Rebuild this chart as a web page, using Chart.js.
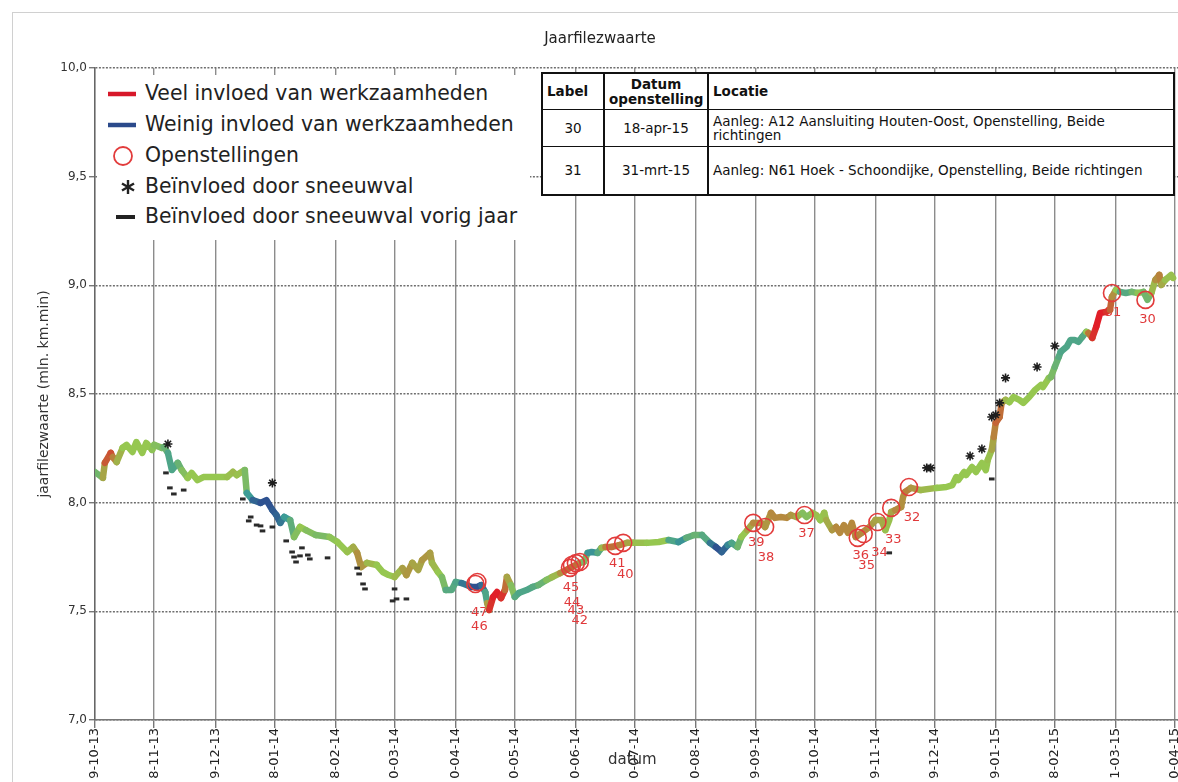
<!DOCTYPE html>
<html>
<head>
<meta charset="utf-8">
<title>Jaarfilezwaarte</title>
<script src="https://cdn.jsdelivr.net/npm/chart.js@4.4.1/dist/chart.umd.min.js"></script>
<style>
    body { margin: 0; background: #fff; overflow: hidden; font-family: "DejaVu Sans", Verdana, sans-serif; }
    #wrap { position: relative; width: 1178px; height: 782px; overflow: hidden; }
    #frame { position: absolute; left: 12px; top: 12px; right: -2px; bottom: -2px; border-left: 1px solid #d0d0d0; border-top: 1px solid #d0d0d0; }
    canvas { position: absolute; left: 0; top: 0; }
    #titel { position: absolute; top: 29px; left: 0; width: 1200px; text-align: center; font-size: 15px; color: #222; }
    #datum { position: absolute; left: 608px; top: 750px; font-size: 15px; color: #333; }
    #legenda { position: absolute; left: 97px; top: 75px; width: 433px; height: 165px; background: #fff; color: #222; font-size: 20.4px; }
    #legenda .rij { position: absolute; left: 0; height: 31px; line-height: 31px; white-space: nowrap; }
    #legenda .rij span { position: absolute; left: 48px; top: 0; }
    #legenda svg { position: absolute; left: 0; top: 0; }
    #tabel { position: absolute; left: 541px; top: 72px; width: 634px; border-collapse: collapse; table-layout: fixed;
             border: 2px solid #111; background: #fff; font-size: 13.5px; color: #111; }
    #tabel th, #tabel td { border-top: 1px solid #111; border-bottom: 1px solid #111; border-left: 2px solid #111; border-right: 2px solid #111; padding: 0 4px; vertical-align: middle; }
    #tabel th { font-size: 13.5px; font-weight: bold; line-height: 15px; height: 35px; text-align: left; }
    #tabel .c { text-align: center; }
    #tabel td { line-height: 14px; }
</style>
</head>
<body>
<div id="wrap">
    <div id="frame"></div>
    <canvas id="grafiek" width="1178" height="782"></canvas>
    <div id="titel">Jaarfilezwaarte</div>
    <div id="legenda">
        <div class="rij" style="top:3px"><svg width="48" height="31"><line x1="11" y1="16" x2="39" y2="16" stroke="#d7182a" stroke-width="4.5"/></svg><span>Veel invloed van werkzaamheden</span></div>
        <div class="rij" style="top:34px"><svg width="48" height="31"><line x1="11" y1="16" x2="39" y2="16" stroke="#2b4a8b" stroke-width="4.5"/></svg><span>Weinig invloed van werkzaamheden</span></div>
        <div class="rij" style="top:65px"><svg width="48" height="31"><circle cx="26" cy="16" r="9" fill="none" stroke="#e23b3b" stroke-width="1.8"/></svg><span>Openstellingen</span></div>
        <div class="rij" style="top:96px"><svg width="48" height="31"><g stroke="#222" stroke-width="2.4"><line x1="31" y1="9" x2="31" y2="23"/><line x1="25" y1="12.5" x2="37" y2="19.5"/><line x1="25" y1="19.5" x2="37" y2="12.5"/></g></svg><span>Beïnvloed door sneeuwval</span></div>
        <div class="rij" style="top:126px"><svg width="48" height="31"><line x1="19" y1="16" x2="38" y2="16" stroke="#222" stroke-width="4"/></svg><span>Beïnvloed door sneeuwval vorig jaar</span></div>
    </div>
    <table id="tabel">
        <colgroup><col style="width:62px"><col style="width:104px"><col></colgroup>
        <tr><th>Label</th><th class="c">Datum<br>openstelling</th><th>Locatie</th></tr>
        <tr style="height:37px"><td class="c">30</td><td class="c">18-apr-15</td><td>Aanleg: A12 Aansluiting Houten-Oost, Openstelling, Beide richtingen</td></tr>
        <tr style="height:48px"><td class="c">31</td><td class="c">31-mrt-15</td><td>Aanleg: N61 Hoek - Schoondijke, Openstelling, Beide richtingen</td></tr>
    </table>
    <div id="datum">datum</div>
</div>
<script>
// x-as: dagen sinds 29-10-2013
const tickDagen = [0, 30, 61, 91, 122, 152, 183, 213, 244, 274, 305, 335, 365, 396, 426, 457, 487, 518, 548];
const tickLabels = ['9-10-13', '8-11-13', '9-12-13', '8-01-14', '8-02-14', '0-03-14', '0-04-14', '0-05-14', '0-06-14', '0-07-14',
    '0-08-14', '9-09-14', '9-10-14', '9-11-14', '9-12-14', '9-01-15', '8-02-15', '1-03-15', '0-04-15'];

// jaarfilezwaarte (mln. km.min)
const dagen = [
    0, 4, 5, 8, 9, 11, 14, 16, 19, 21,
    24, 26, 29, 30, 34, 35, 37, 39, 42, 44,
    47, 49, 52, 55, 62, 67, 70, 72, 76, 77,
    80, 84, 87, 90, 92, 94, 96, 99, 101, 104,
    107, 112, 119, 123, 128, 131, 133, 135, 138, 143,
    146, 149, 152, 156, 158, 161, 164, 166, 170, 171,
    174, 176, 178, 181, 183, 186, 191, 194, 196, 198,
    199, 200, 202, 204, 206, 208, 209, 211, 213, 215,
    219, 222, 225, 229, 232, 236, 239, 242, 246, 248,
    250, 252, 255, 257, 259, 262, 266, 270, 273, 280,
    286, 291, 296, 300, 304, 308, 312, 315, 318, 321,
    323, 326, 328, 331, 334, 338, 340, 343, 345, 348,
    351, 353, 356, 359, 361, 364, 366, 368, 370, 371,
    374, 376, 378, 380, 382, 384, 386, 389, 393, 396,
    399, 401, 403, 404, 406, 409, 410, 411, 414, 419,
    427, 432, 435, 437, 438, 441, 442, 445, 447, 450,
    452, 453, 455, 456, 457, 459, 460, 462, 464, 466,
    469, 471, 474, 477, 480, 481, 484, 485, 487, 489,
    490, 493, 495, 497, 499, 501, 503, 504, 506, 508,
    510, 513, 515, 516, 518, 520, 523, 526, 529, 532,
    534, 536, 538, 540, 541, 543, 546, 547
];
const waarden = [
    8.141, 8.114, 8.183, 8.229, 8.210, 8.187, 8.252, 8.266, 8.233, 8.279,
    8.229, 8.275, 8.243, 8.266, 8.252, 8.256, 8.229, 8.150, 8.183, 8.150,
    8.114, 8.137, 8.104, 8.118, 8.118, 8.118, 8.141, 8.127, 8.150, 8.045,
    8.012, 7.999, 8.012, 7.966, 7.943, 7.907, 7.934, 7.920, 7.842, 7.888,
    7.874, 7.851, 7.842, 7.819, 7.773, 7.796, 7.769, 7.704, 7.723, 7.713,
    7.681, 7.667, 7.658, 7.699, 7.667, 7.723, 7.690, 7.736, 7.769, 7.723,
    7.681, 7.658, 7.598, 7.598, 7.635, 7.630, 7.612, 7.612, 7.621, 7.589,
    7.538, 7.506, 7.566, 7.589, 7.561, 7.598, 7.658, 7.621, 7.566, 7.584,
    7.598, 7.612, 7.621, 7.644, 7.658, 7.676, 7.690, 7.704, 7.723, 7.727,
    7.769, 7.773, 7.769, 7.792, 7.796, 7.796, 7.805, 7.815, 7.815, 7.815,
    7.819, 7.828, 7.819, 7.838, 7.851, 7.851, 7.815, 7.796, 7.773, 7.805,
    7.815, 7.796, 7.842, 7.874, 7.907, 7.907, 7.888, 7.953, 7.930, 7.934,
    7.930, 7.943, 7.934, 7.953, 7.934, 7.953, 7.943, 7.920, 7.953, 7.920,
    7.874, 7.888, 7.861, 7.897, 7.861, 7.907, 7.842, 7.861, 7.888, 7.920,
    7.920, 7.874, 7.920, 7.957, 7.966, 7.980, 8.026, 8.049, 8.068, 8.058,
    8.068, 8.072, 8.081, 8.118, 8.104, 8.141, 8.127, 8.164, 8.141, 8.183,
    8.150, 8.197, 8.243, 8.302, 8.367, 8.394, 8.459, 8.473, 8.463, 8.486,
    8.473, 8.459, 8.486, 8.519, 8.542, 8.532, 8.574, 8.578, 8.625, 8.671,
    8.694, 8.717, 8.749, 8.749, 8.740, 8.763, 8.786, 8.781, 8.758, 8.809,
    8.873, 8.878, 8.887, 8.947, 8.979, 8.970, 8.965, 8.970, 8.965, 8.970,
    8.933, 8.965, 9.025, 9.048, 9.002, 9.025, 9.048, 9.034
];
// invloed van werkzaamheden: -1 = weinig, 0 = neutraal, 1 = veel
const invloed = [
    -0.3, -0.1, 0.6, 0.8, 0.7, 0.3, 0, 0, 0, 0,
    0, 0, 0, -0.1, -0.1, -0.2, -0.3, -0.5, -0.3, -0.2,
    0, 0, 0, 0, 0, 0, 0.1, 0.1, 0, -0.3,
    -0.7, -0.9, -0.9, -0.9, -0.8, -0.8, -0.6, -0.4, -0.2, 0,
    0, -0.2, -0.1, 0, 0, 0.1, 0.3, 0.5, 0.2, 0,
    0, 0, 0, 0.2, 0.4, 0.3, 0.2, 0.3, 0.4, 0.2,
    0, 0, -0.3, -0.4, -0.3, -0.5, -0.9, -0.9, -0.9, -0.6,
    -0.2, 0.8, 1, 1, 1, 0.8, 0.4, 0.1, -0.3, -0.4,
    -0.4, -0.4, -0.3, -0.2, 0, 0.2, 0.6, 0.7, 0.5, 0.2,
    -0.5, -0.6, -0.5, -0.2, 0.4, 0.6, 0.6, 0.4, 0.1, 0,
    0, 0, -0.8, -0.3, -0.3, -0.2, -0.5, -0.9, -0.9, -0.7,
    -0.5, -0.3, -0.1, 0.1, 0.4, 0.5, 0.3, 0.4, 0.5, 0.4,
    0.5, 0.4, 0.3, 0, -0.2, 0, 0.1, 0, 0, 0.1,
    0.3, 0.4, 0.5, 0.4, 0.5, 0.4, 0.5, 0.5, 0.4, 0.2,
    0.3, 0.1, 0, 0.1, 0.4, 0.5, 0.3, 0.5, 0.5, 0.2,
    0, 0, 0, 0, 0, 0, 0, 0, 0, 0,
    0, 0, 0.1, 0.4, 0.6, 0.7, 0.5, 0.2, 0, 0,
    0, 0, 0, 0, 0, 0, 0, -0.1, -0.2, -0.3,
    -0.4, -0.4, -0.4, -0.4, -0.4, -0.4, -0.3, 0.3, 0.8, 1,
    1, 1, 0.8, 0.5, 0.3, -0.3, -0.4, -0.3, -0.1, 0,
    -0.4, 0, 0.2, 0.6, 0.4, 0, 0.1, 0
];

// openstellingen
const openLabels = ['47', '46', '45', '44', '43', '42', '41', '40', '39', '38', '37', '36', '35', '34', '33', '32', '31', '30'];
const openDagen = [194, 193, 241, 242, 244, 246, 264, 268, 334, 340, 360, 387, 390, 397, 404, 413, 516, 533];
const openWaarden = [7.635, 7.626, 7.700, 7.713, 7.722, 7.727, 7.801, 7.815, 7.907, 7.888, 7.943, 7.838, 7.856, 7.911, 7.976, 8.072, 8.965, 8.933];

// beïnvloed door sneeuwval
const sneeuwDagen = [37, 90, 422, 424, 444, 450, 455, 457, 459, 462, 478, 487];
const sneeuwWaarden = [8.270, 8.091, 8.160, 8.160, 8.215, 8.247, 8.394, 8.404, 8.459, 8.574, 8.624, 8.721];

// beïnvloed door sneeuwval vorig jaar
const vorigJaarDagen = [36, 38, 40, 45, 75, 78, 79, 82, 84, 85, 90, 97, 100, 101, 102, 104, 105, 108, 109, 118, 133, 134, 136, 137, 151, 152, 153, 158, 403, 455];
const vorigJaarWaarden = [8.137, 8.068, 8.040, 8.058, 8.017, 7.916, 7.934, 7.897, 7.893, 7.870, 7.888, 7.824, 7.773, 7.750, 7.727, 7.755, 7.792, 7.759, 7.741, 7.746, 7.699, 7.672, 7.626, 7.603, 7.548, 7.603, 7.557, 7.557, 7.769, 8.109];

// kleurverloop blauw - groen - rood
const kleurStops = [[-1, [42, 63, 143]], [-0.5, [60, 156, 150]], [0, [150, 199, 80]], [0.5, [184, 130, 60]], [1, [225, 30, 40]]];
function kleur(v) {
    for (let i = 1; i < kleurStops.length; i++) {
        if (v <= kleurStops[i][0]) {
            const [a, ca] = kleurStops[i - 1];
            const [b, cb] = kleurStops[i];
            const t = (v - a) / (b - a);
            const c = ca.map((x, k) => Math.round(x + (cb[k] - x) * t));
            return `rgb(${c[0]},${c[1]},${c[2]})`;
        }
    }
    return 'rgb(225,30,40)';
}

// verschuiving van de labels t.o.v. de cirkel (px)
const labelOffset = [[2, 31], [4, 43], [1, 20], [0, 38], [0, 48], [0, 59], [2, 18], [2, 32], [3, 20], [1, 31],
    [2, 19], [3, 18], [3, 32], [2, 31], [2, 32], [3, 31], [1, 20], [2, 20]];

const openLabelsPlugin = {
    id: 'openLabels',
    beforeDatasetsDraw(chart) {
        const { ctx, scales: { x, y } } = chart;
        ctx.save();
        ctx.font = '13px "DejaVu Sans"';
        ctx.fillStyle = '#e0393b';
        ctx.textAlign = 'center';
        ctx.textBaseline = 'middle';
        openLabels.forEach((t, i) => {
            ctx.fillText(t, x.getPixelForValue(openDagen[i]) + labelOffset[i][0], y.getPixelForValue(openWaarden[i]) + labelOffset[i][1]);
        });
        ctx.restore();
    }
};

const punten = (xs, ys) => xs.map((d, i) => ({ x: d, y: ys[i] }));

new Chart(document.getElementById('grafiek'), {
    type: 'scatter',
    data: {
        datasets: [
            {
                label: 'Openstellingen',
                data: punten(openDagen, openWaarden),
                pointStyle: 'circle',
                pointRadius: 8.5,
                borderColor: '#e23b3b',
                backgroundColor: 'rgba(0,0,0,0)',
                borderWidth: 1.6
            },
            {
                label: 'Beïnvloed door sneeuwval',
                data: punten(sneeuwDagen, sneeuwWaarden),
                pointStyle: 'star',
                pointRadius: 4.5,
                borderColor: '#1e1e1e',
                borderWidth: 1.6
            },
            {
                label: 'Beïnvloed door sneeuwval vorig jaar',
                data: punten(vorigJaarDagen, vorigJaarWaarden),
                pointStyle: 'line',
                pointRadius: 2.8,
                borderColor: '#2a2a2a',
                borderWidth: 3
            },
            {
                label: 'Jaarfilezwaarte',
                data: punten(dagen, waarden),
                showLine: true,
                pointRadius: 0,
                borderWidth: 6.5,
                borderCapStyle: 'round',
                borderJoinStyle: 'round',
                borderColor: kleur(0),
                segment: {
                    borderColor: c => kleur((invloed[c.p0DataIndex] + invloed[c.p1DataIndex]) / 2)
                }
            }
        ]
    },
    options: {
        responsive: false,
        animation: false,
        devicePixelRatio: 1,
        layout: { autoPadding: false, padding: { top: 68, right: 0, bottom: 0, left: 0 } },
        plugins: { legend: { display: false }, tooltip: { enabled: false }, title: { display: false } },
        scales: {
            x: {
                type: 'linear',
                min: 0,
                max: 549.5,
                afterBuildTicks: s => { s.ticks = tickDagen.map(v => ({ value: v })); },
                ticks: {
                    autoSkip: false,
                    minRotation: 90,
                    maxRotation: 90,
                    padding: 0,
                    color: '#222',
                    font: { family: 'DejaVu Sans', size: 13 },
                    callback: (v, i) => tickLabels[i]
                },
                grid: { color: '#8c8c8c', lineWidth: 1.4, tickLength: 8, tickColor: '#777' },
                border: { color: '#777', width: 1.4 },
                afterFit: s => { s.height = 62; s.paddingLeft = 0; s.paddingRight = 0; }
            },
            y: {
                min: 7,
                max: 10,
                ticks: {
                    stepSize: 0.5,
                    padding: 2,
                    color: '#333',
                    font: { family: 'DejaVu Sans', size: 12 },
                    callback: v => v.toFixed(1).replace('.', ',')
                },
                grid: { color: '#6e6e6e', lineWidth: 1.4, tickLength: 6, tickColor: '#777' },
                border: { color: '#666', width: 1.4, dash: [2, 1.5] },
                title: {
                    display: true,
                    text: 'jaarfilezwaarte (mln. km.min)',
                    color: '#333',
                    font: { family: 'DejaVu Sans', size: 14 },
                    padding: { top: 36, bottom: 0 }
                },
                afterFit: s => { s.width = 95; s.paddingTop = 0; s.paddingBottom = 0; }
            }
        }
    },
    plugins: [openLabelsPlugin]
});
</script>
</body>
</html>
